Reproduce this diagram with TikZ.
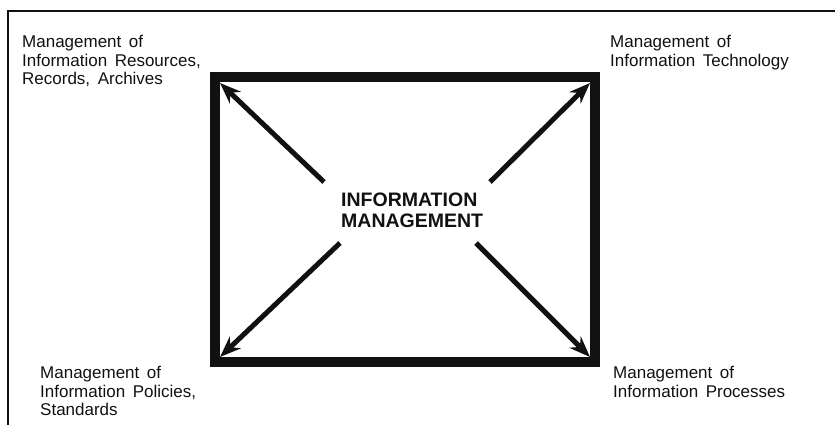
\documentclass[tikz,border=0pt]{standalone}
\usepackage{fontspec}
\setmainfont[WordSpace=1.6]{Liberation Sans}
\usepackage{tikz}
\usetikzlibrary{arrows.meta,positioning}
\definecolor{ink}{HTML}{111111}
\tikzset{
  cornerlabel/.style={anchor=north west,inner sep=0pt,align=left,
                      font=\fontsize{17}{18.5}\selectfont,text=ink},
  hublabel/.style={anchor=north west,inner sep=0pt,align=left,
                   font=\fontsize{19.5}{20.5}\selectfont\bfseries,text=ink},
  frameline/.style={draw=ink,line width=1.8pt},
  heavybox/.style={draw=ink,line width=10.5pt,line join=miter},
  spokearr/.style={-{Stealth[length=21pt,width=16pt]},line width=5pt,draw=ink}
}

\begin{document}
\begin{tikzpicture}[x=1pt,y=-1pt]
  \useasboundingbox (0,0) rectangle (835,425);
  \draw[frameline] (8,425) -- (8,11) -- (835,11);
  \draw[heavybox] (215,77) rectangle (595,362);
  \node[hublabel] (hub) at (341,193) {INFORMATION\\MANAGEMENT};
  \node[cornerlabel] (resources) at (22,35) {Management of\\Information Resources,\\Records, Archives};
  \node[cornerlabel] (technology) at (610,35) {Management of\\Information Technology};
  \node[cornerlabel] (policies) at (40,366) {Management of\\Information Policies,\\Standards};
  \node[cornerlabel] (processes) at (613,366) {Management of\\Information Processes};
  \coordinate (ulTail) at (324,182);
  \coordinate (ulTip) at (220,83);
  \coordinate (urTail) at (490,182);
  \coordinate (urTip) at (590,83);
  \coordinate (llTail) at (340,243);
  \coordinate (llTip) at (220,357);
  \coordinate (lrTail) at (476,243);
  \coordinate (lrTip) at (590,357);
  \draw[spokearr] (ulTail) -- (ulTip);
  \draw[spokearr] (urTail) -- (urTip);
  \draw[spokearr] (llTail) -- (llTip);
  \draw[spokearr] (lrTail) -- (lrTip);
\end{tikzpicture}
\end{document}
